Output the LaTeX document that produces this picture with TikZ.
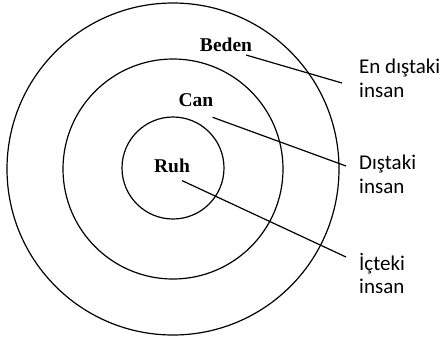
\documentclass[tikz,border=0pt]{standalone}
\usepackage{fontspec}
\setmainfont{Liberation Serif}
\newfontfamily\labfont{Carlito}
\begin{document}
\begin{tikzpicture}[x=1pt,y=-1pt,
  ring/.style={draw=black,line width=1.2pt},
  conn/.style={draw=black,line width=1.2pt},
  layer/.style={font=\fontsize{19.5}{22}\selectfont\bfseries,inner sep=0pt},
  side/.style={font=\labfont\fontsize{21}{23.5}\selectfont,align=left,anchor=west,inner sep=0pt}]
\useasboundingbox (0,0) rectangle (444,338);
\node[ring,circle,minimum size=332pt,inner sep=0pt] (outer) at (173,169) {};
\node[ring,circle,minimum size=220pt,inner sep=0pt] (middle) at (173,169) {};
\node[ring,circle,minimum size=102pt,inner sep=0pt] (inner) at (173,168) {};
\node[layer] (beden) at (226,45) {Beden};
\node[layer] (can) at (196,100) {Can};
\node[layer] (ruh) at (172,166) {Ruh};
\node[side] (en) at (359,78.5) {En dıştaki\\insan};
\node[side] (dis) at (359,174.5) {Dıştaki\\insan};
\node[side] (ic) at (359,273.5) {İçteki\\insan};
\draw[conn] ([xshift=-6pt,yshift=-3pt]beden.south east) -- ([xshift=-17pt,yshift=-4.5pt]en.west);
\draw[conn] ([xshift=-1pt,yshift=-10.5pt]can.south east) -- ([xshift=-13pt,yshift=8.5pt]dis.west);
\draw[conn] ([xshift=10pt,yshift=-7.5pt]ruh.south) -- ([xshift=-13pt,yshift=16.5pt]ic.west);
\end{tikzpicture}
\end{document}
